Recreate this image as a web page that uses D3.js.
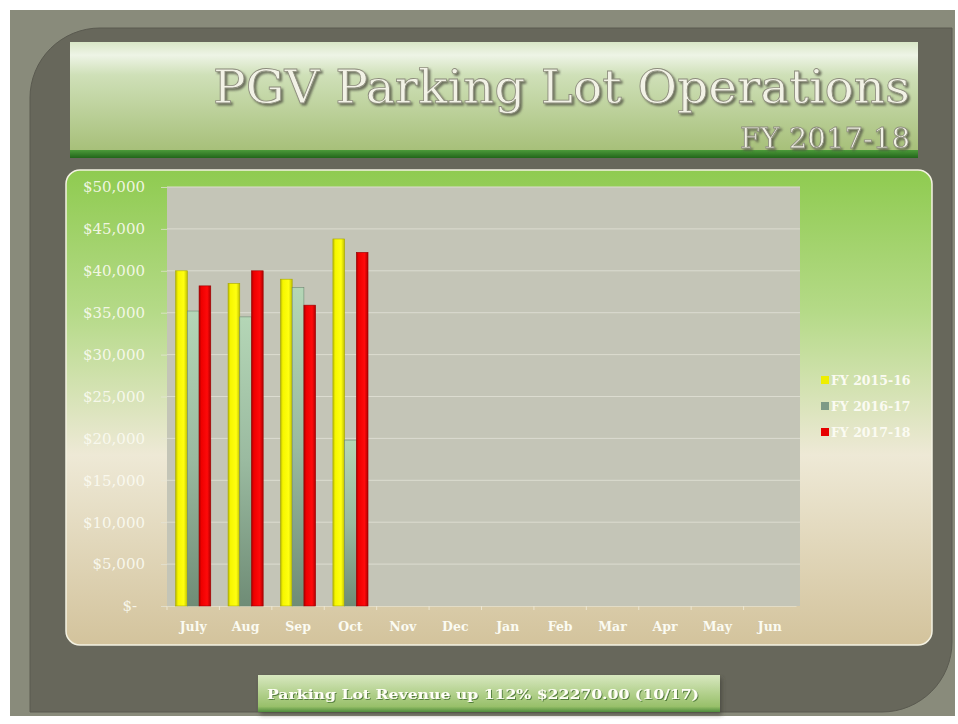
<!DOCTYPE html>
<html>
<head>
<meta charset="utf-8">
<script src="https://cdn.jsdelivr.net/npm/d3@7"></script>
<style>
  body { margin: 0; background: #fff; }
  svg { display: block; }
</style>
</head>
<body>
<svg id="chart" width="958" height="724"></svg>
<script>
// chart data
const months = ['July', 'Aug', 'Sep', 'Oct', 'Nov', 'Dec', 'Jan', 'Feb', 'Mar', 'Apr', 'May', 'Jun']
const seriesNames = ['FY 2015-16', 'FY 2016-17', 'FY 2017-18']
const fy1516 = [40000, 38500, 39000, 43800]
const fy1617 = [35200, 34500, 38000, 19800]
const fy1718 = [38200, 40000, 35900, 42200]
const yTicks = [0, 5000, 10000, 15000, 20000, 25000, 30000, 35000, 40000, 45000, 50000]

const titleText = 'PGV Parking Lot Operations'
const subtitleText = 'FY 2017-18'
const footerText = 'Parking Lot Revenue up 112% $22270.00  (10/17)'

const serif = "'DejaVu Serif', 'Liberation Serif', serif"

const svg = d3.select('#chart')
const defs = svg.append('defs')

function vGrad (id, stops) {
  const g = defs.append('linearGradient').attr('id', id)
    .attr('x1', 0).attr('y1', 0).attr('x2', 0).attr('y2', 1)
  stops.forEach(s => g.append('stop').attr('offset', s[0]).attr('stop-color', s[1]))
}
function hGrad (id, stops) {
  const g = defs.append('linearGradient').attr('id', id)
    .attr('x1', 0).attr('y1', 0).attr('x2', 1).attr('y2', 0)
  stops.forEach(s => g.append('stop').attr('offset', s[0]).attr('stop-color', s[1]))
}

vGrad('bannerGrad', [[0, '#d8e6c6'], [0.12, '#eef4e6'], [0.3, '#cfe0b8'], [1, '#a6bf78']])
vGrad('bannerStrip', [[0, '#4c9a3a'], [1, '#22661a']])
vGrad('panelGrad', [[0, '#8fcb50'], [0.3, '#b5da88'], [0.6, '#eee9d6'], [1, '#d3c39c']])
vGrad('footGrad', [[0, '#d8e8c0'], [0.5, '#b2d08c'], [0.85, '#98c06a'], [1, '#4e8c3c']])
hGrad('yellowBar', [[0, '#b8b800'], [0.2, '#f6f600'], [0.7, '#ffff10'], [1, '#c0c000']])
hGrad('redBar', [[0, '#a80000'], [0.2, '#ee0000'], [0.7, '#ff0a0a'], [1, '#b00000']])
vGrad('greenBar', [[0, '#b4d6b6'], [0.5, '#9abaa0'], [1, '#6f8c76']])

const shadow = defs.append('filter').attr('id', 'soft').attr('x', -0.1).attr('y', -0.1)
  .attr('width', 1.3).attr('height', 1.4)
shadow.append('feDropShadow').attr('dx', 2).attr('dy', 3).attr('stdDeviation', 2)
  .attr('flood-color', '#3a3a30').attr('flood-opacity', 0.6)

// embossed look for the title texts
const emboss = defs.append('filter').attr('id', 'emboss').attr('x', -0.05).attr('y', -0.2)
  .attr('width', 1.1).attr('height', 1.5)
emboss.append('feDropShadow').attr('dx', 2).attr('dy', 2).attr('stdDeviation', 0.8)
  .attr('flood-color', '#4e4e40').attr('flood-opacity', 0.75)

const textShadow = defs.append('filter').attr('id', 'tshadow').attr('x', -0.05).attr('y', -0.3)
  .attr('width', 1.1).attr('height', 1.6)
textShadow.append('feDropShadow').attr('dx', 1).attr('dy', 1).attr('stdDeviation', 0.6)
  .attr('flood-color', '#3c6a2c').attr('flood-opacity', 0.8)

// frame
svg.append('rect').attr('x', 10).attr('y', 10).attr('width', 945).attr('height', 706).attr('fill', '#898b7b')
// inner dark panel with rounded top-left and bottom-right corners
const x0 = 30, y0 = 28, x1 = 952, y1 = 712, r = 70
svg.append('path')
  .attr('d', `M${x0},${y0 + r} A${r},${r} 0 0 1 ${x0 + r},${y0} L${x1},${y0} L${x1},${y1 - r}
    A${r},${r} 0 0 1 ${x1 - r},${y1} L${x0},${y1} Z`)
  .attr('fill', '#67675b')
  .attr('stroke', '#5a5a50').attr('stroke-width', 1)

// title banner
svg.append('rect').attr('x', 70).attr('y', 42).attr('width', 848).attr('height', 110)
  .attr('fill', 'url(#bannerGrad)')
svg.append('rect').attr('x', 70).attr('y', 150).attr('width', 848).attr('height', 8)
  .attr('fill', 'url(#bannerStrip)')

function embossText (x, y, txt, size, len) {
  svg.append('text').attr('x', x).attr('y', y)
    .attr('text-anchor', 'end').attr('font-family', serif).attr('font-size', size)
    .attr('textLength', len).attr('lengthAdjust', 'spacingAndGlyphs')
    .attr('fill', '#f2f2e6').attr('stroke', '#8c8c7c').attr('stroke-width', 0.8)
    .attr('filter', 'url(#emboss)')
    .text(txt)
}
embossText(910, 103, titleText, 46, 697)
embossText(910, 148, subtitleText, 28, 170)

// chart panel
svg.append('rect').attr('x', 66).attr('y', 170).attr('width', 866).attr('height', 475)
  .attr('rx', 14).attr('fill', 'url(#panelGrad)')
  .attr('stroke', '#f4f2e2').attr('stroke-width', 1.5)

// plot
const plot = { left: 167, right: 800, top: 187, bottom: 606 }
svg.append('rect').attr('x', plot.left).attr('y', plot.top)
  .attr('width', plot.right - plot.left).attr('height', plot.bottom - plot.top)
  .attr('fill', '#c4c5b7')

const y = d3.scaleLinear().domain([0, 50000]).range([plot.bottom, plot.top])
const xBand = d3.scaleBand().domain(months).range([plot.left, 796])
  .paddingInner(0.33).paddingOuter(0.165)
const xSub = d3.scaleBand().domain(seriesNames).range([0, xBand.bandwidth()])

// gridlines
svg.append('g').selectAll('line').data(yTicks.slice(1)).join('line')
  .attr('x1', plot.left).attr('x2', plot.right)
  .attr('y1', d => y(d)).attr('y2', d => y(d))
  .attr('stroke', '#dcdcd0').attr('stroke-width', 1)

// y axis
const yAxis = svg.append('g').attr('transform', `translate(${plot.left},0)`)
  .call(d3.axisLeft(y).tickValues(yTicks).tickSize(6).tickPadding(16)
    .tickFormat(d => d === 0 ? '$-' : '$' + d3.format(',')(d)))
yAxis.select('.domain').remove()
yAxis.selectAll('.tick line').attr('stroke', '#e6e6d8').attr('stroke-opacity', 0.7)
yAxis.selectAll('.tick text').attr('font-family', serif).attr('font-size', 15)
  .attr('fill', '#fbfbf2').attr('fill-opacity', 0.9)
yAxis.selectAll('.tick text').filter(d => d === 0).attr('dx', -8)

// x axis
const xAxis = svg.append('g').attr('transform', `translate(0,${plot.bottom})`)
  .call(d3.axisBottom(xBand).tickSize(0).tickPadding(16))
xAxis.select('.domain').attr('stroke', '#e2dcc6').attr('stroke-width', 1)
xAxis.selectAll('.tick text').attr('font-family', serif).attr('font-size', 12.5)
  .attr('font-weight', 'bold').attr('fill', '#fbfbf2')
// small category separators
svg.append('g').selectAll('line').data(months).join('line')
  .attr('x1', d => xBand(d) - xBand.step() * xBand.paddingInner() / 2)
  .attr('x2', d => xBand(d) - xBand.step() * xBand.paddingInner() / 2)
  .attr('y1', plot.bottom).attr('y2', plot.bottom + 4)
  .attr('stroke', '#ece6d2')

// bars
const fills = ['url(#yellowBar)', 'url(#greenBar)', 'url(#redBar)']
const series = [fy1516, fy1617, fy1718]
const barData = []
series.forEach((vals, si) => {
  vals.forEach((v, mi) => barData.push({ month: months[mi], series: seriesNames[si], si, value: v }))
})
svg.append('g').selectAll('rect').data(barData).join('rect')
  .attr('x', d => xBand(d.month) + xSub(d.series))
  .attr('y', d => y(d.value))
  .attr('width', xSub.bandwidth())
  .attr('height', d => plot.bottom - y(d.value))
  .attr('fill', d => fills[d.si])
  .attr('stroke', d => ['#a8a800', '#6e8a74', '#9a0000'][d.si])
  .attr('stroke-width', 0.6)

// legend
const legendColors = ['#eeee00', '#7d9a86', '#e60000']
const legend = svg.append('g').selectAll('g').data(seriesNames).join('g')
  .attr('transform', (d, i) => `translate(821,${381 + i * 26})`)
legend.append('rect').attr('x', 0).attr('y', -5).attr('width', 8).attr('height', 8)
  .attr('fill', (d, i) => legendColors[i])
legend.append('text').attr('x', 10).attr('y', 4)
  .attr('font-family', serif).attr('font-size', 12.5).attr('font-weight', 'bold')
  .attr('fill', '#fbfbf2').text(d => d)

// footer box
svg.append('rect').attr('x', 258).attr('y', 675).attr('width', 462).attr('height', 37)
  .attr('fill', 'url(#footGrad)').attr('filter', 'url(#soft)')
svg.append('text').attr('x', 267).attr('y', 699)
  .attr('font-family', serif).attr('font-size', 13.5).attr('font-weight', 'bold')
  .attr('textLength', 432).attr('lengthAdjust', 'spacingAndGlyphs')
  .attr('fill', '#fffff6').attr('filter', 'url(#tshadow)')
  .text(footerText)
</script>
</body>
</html>
